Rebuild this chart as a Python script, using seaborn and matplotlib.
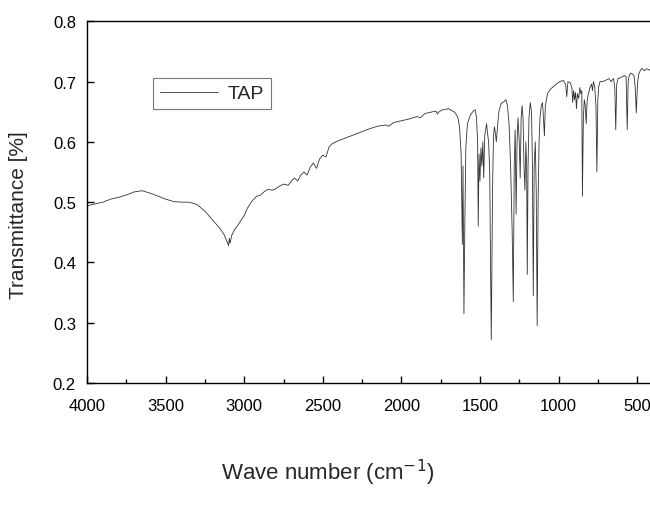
import seaborn as sns
import pandas as pd
import numpy as np
import matplotlib.pyplot as plt
from matplotlib.ticker import MultipleLocator

# IR spectrum of TAP, in three stretches
# broad part, 4000 -> 1680 cm-1
broad_wn = [4000, 3950, 3900, 3850, 3800, 3750, 3700, 3650, 3600, 3550,
            3500, 3450, 3400, 3350, 3300, 3250, 3200, 3160, 3130, 3110,
            3100, 3095, 3090, 3080, 3060, 3040, 3020, 3000, 2980, 2950,
            2920, 2900, 2870, 2850, 2820, 2800, 2780, 2750, 2720, 2700,
            2680, 2660, 2640, 2620, 2600, 2580, 2560, 2540, 2520, 2500,
            2480, 2460, 2440, 2400, 2350, 2300, 2250, 2200, 2150, 2100,
            2080, 2050, 2000, 1950, 1900, 1880, 1850, 1800, 1780, 1770,
            1760, 1740, 1720, 1700, 1680]
broad_t = [0.494, 0.497, 0.500, 0.505, 0.508, 0.512, 0.517, 0.519, 0.515, 0.510,
           0.505, 0.501, 0.500, 0.500, 0.496, 0.485, 0.470, 0.458, 0.447, 0.435,
           0.428, 0.440, 0.432, 0.445, 0.455, 0.462, 0.470, 0.478, 0.490, 0.502,
           0.510, 0.511, 0.518, 0.521, 0.520, 0.522, 0.526, 0.530, 0.528, 0.535,
           0.540, 0.535, 0.545, 0.550, 0.545, 0.558, 0.565, 0.556, 0.572, 0.578,
           0.575, 0.592, 0.597, 0.602, 0.607, 0.612, 0.617, 0.622, 0.626, 0.628,
           0.626, 0.632, 0.635, 0.638, 0.642, 0.640, 0.647, 0.650, 0.651, 0.646,
           0.650, 0.653, 0.654, 0.655, 0.652]

# fingerprint part, 1665 -> 1084 cm-1
fp_wn = [1665, 1650, 1640, 1630, 1620, 1612, 1608, 1602, 1596, 1590,
         1580, 1560, 1540, 1530, 1522, 1515, 1511, 1506, 1500, 1494,
         1488, 1482, 1476, 1470, 1464, 1458, 1452, 1445, 1438, 1428,
         1420, 1414, 1408, 1402, 1396, 1390, 1380, 1365, 1350, 1335,
         1325, 1315, 1305, 1295, 1288, 1282, 1276, 1270, 1264, 1258,
         1250, 1244, 1238, 1232, 1226, 1220, 1214, 1208, 1203, 1199,
         1194, 1188, 1180, 1172, 1166, 1161, 1155, 1148, 1142, 1136,
         1130, 1124, 1118, 1110, 1102, 1096, 1090, 1084]
fp_t = [0.650, 0.645, 0.640, 0.625, 0.580, 0.430, 0.560, 0.315, 0.470, 0.590,
        0.630, 0.645, 0.652, 0.653, 0.640, 0.600, 0.460, 0.580, 0.535, 0.590,
        0.560, 0.600, 0.540, 0.610, 0.620, 0.630, 0.615, 0.600, 0.550, 0.272,
        0.520, 0.610, 0.625, 0.615, 0.600, 0.620, 0.650, 0.664, 0.666, 0.670,
        0.660, 0.630, 0.560, 0.450, 0.335, 0.560, 0.620, 0.480, 0.600, 0.640,
        0.600, 0.540, 0.640, 0.660, 0.640, 0.560, 0.520, 0.600, 0.560, 0.380,
        0.560, 0.640, 0.665, 0.650, 0.560, 0.345, 0.560, 0.600, 0.520, 0.295,
        0.500, 0.600, 0.640, 0.660, 0.665, 0.640, 0.610, 0.660]

# low wavenumber part, 1070 -> 418 cm-1
low_wn = [1070, 1050, 1030, 1010, 990, 970, 955, 948, 940, 925,
          915, 910, 904, 898, 892, 886, 880, 872, 864, 858,
          852, 848, 842, 836, 830, 824, 818, 810, 800, 790,
          784, 778, 770, 762, 756, 750, 744, 736, 720, 700,
          680, 665, 650, 642, 636, 630, 622, 610, 595, 580,
          570, 563, 557, 550, 540, 528, 520, 512, 505, 498,
          490, 480, 470, 455, 440, 425, 418]
low_t = [0.680, 0.688, 0.692, 0.697, 0.700, 0.702, 0.695, 0.675, 0.700, 0.698,
         0.690, 0.665, 0.685, 0.670, 0.682, 0.655, 0.680, 0.672, 0.690, 0.680,
         0.685, 0.510, 0.640, 0.670, 0.660, 0.630, 0.668, 0.680, 0.690, 0.696,
         0.685, 0.700, 0.692, 0.660, 0.550, 0.670, 0.692, 0.700, 0.700, 0.702,
         0.705, 0.700, 0.705, 0.690, 0.620, 0.695, 0.705, 0.706, 0.708, 0.710,
         0.708, 0.620, 0.700, 0.710, 0.714, 0.712, 0.710, 0.690, 0.648, 0.695,
         0.712, 0.718, 0.722, 0.718, 0.721, 0.720, 0.718]

df = pd.DataFrame({
    "Wave number": np.concatenate([broad_wn, fp_wn, low_wn]),
    "Transmittance": np.concatenate([broad_t, fp_t, low_t]),
})

sns.set_theme(style="ticks")
plt.rcParams["font.family"] = ["Liberation Sans", "DejaVu Sans"]

fig = plt.figure(figsize=(6.5, 5.06), dpi=100)
ax = fig.add_axes([0.134, 0.241, 0.866, 0.715])

sns.lineplot(data=df, x="Wave number", y="Transmittance", sort=False,
             color="#333333", linewidth=0.6, label="TAP", ax=ax)

ax.set_xlim(4000, 418)
ax.set_ylim(0.2, 0.8)
ax.xaxis.set_major_locator(MultipleLocator(500))
ax.xaxis.set_minor_locator(MultipleLocator(250))
ax.yaxis.set_major_locator(MultipleLocator(0.1))
ax.tick_params(axis="both", which="both", direction="in", labelsize=12,
               colors="black", top=False, right=False)
ax.tick_params(axis="x", which="major", length=5, width=1, pad=11)
ax.tick_params(axis="y", which="major", length=5, width=1, pad=8)
ax.tick_params(which="minor", length=3, width=1)
for s in ax.spines.values():
    s.set_color("black")
    s.set_linewidth(1)
ax.spines["right"].set_visible(False)

# the picture is cropped on the right, labels sit at the figure centre
ax.set_xlabel("Wave number (cm$^{-1}$)", fontsize=16)
ax.xaxis.set_label_coords(0.428, -0.205)
ax.set_ylabel("Transmittance [%]", fontsize=15)
ax.yaxis.set_label_coords(-0.105, 0.467)

leg = ax.legend(loc="upper left", bbox_to_anchor=(0.1, 0.87), fontsize=14,
                frameon=True, fancybox=False, shadow=False, handlelength=3.0,
                handletextpad=0.5, borderpad=0.35)
leg.get_frame().set_edgecolor("#555555")
leg.get_frame().set_linewidth(0.8)

plt.savefig("out.png", dpi=100)
